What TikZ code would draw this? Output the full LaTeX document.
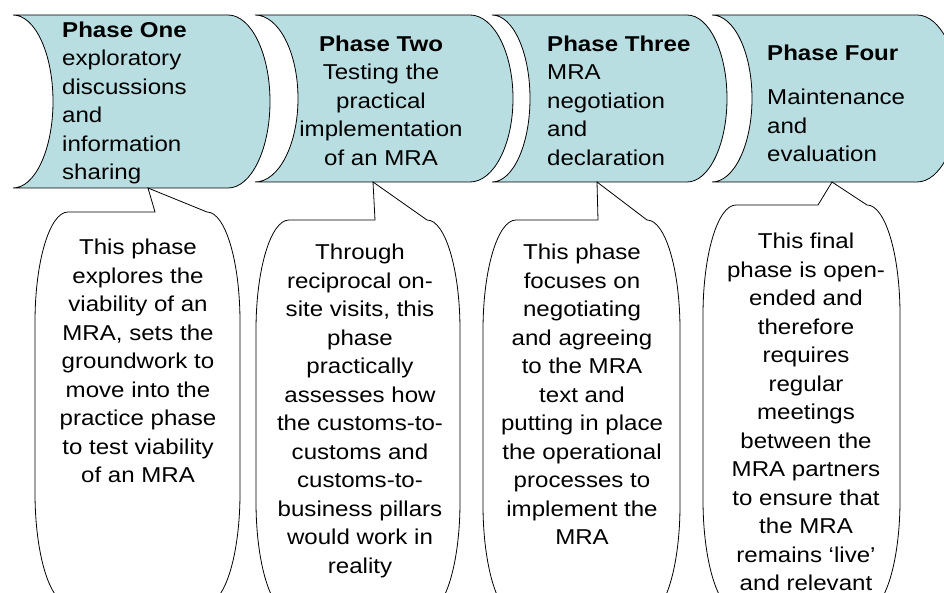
\documentclass[tikz,border=0pt]{standalone}
\usepackage{fontspec}
\setmainfont{Liberation Sans}[FakeStretch=1.12]
\definecolor{chevfill}{RGB}{185,222,226}
\tikzset{
  chev/.style={fill=chevfill,draw=black,line width=0.8pt},
  bub/.style={fill=white,draw=black,line width=0.8pt},
  txt/.style={inner sep=0pt,font=\fontsize{21.5}{28.5}\selectfont},
}
% chevron: xl, xr, yt, yb, bulge, concave
\newcommand\mychev[6]{%
  \path[chev] (#1,#3) -- (#2,#3)
    arc[start angle=90,end angle=-90,x radius=#5pt,y radius={(#4-#3)/2*1pt}]
    -- (#1,#4)
    arc[start angle=-90,end angle=90,x radius=#6pt,y radius={(#4-#3)/2*1pt}]
    -- cycle;}
% bubble: L, R, T, B, pointer left base, tip x, tip y
\newcommand\mybub[7]{%
  \path[bub] ({#1+33},#3) -- (#5,#3) -- (#6,#7) -- ({#2-33},#3)
    arc[start angle=90,end angle=0,x radius=33pt,y radius=110pt]
    -- (#2,{#4-110})
    arc[start angle=0,end angle=-90,x radius=33pt,y radius=110pt]
    -- ({#1+33},#4)
    arc[start angle=-90,end angle=-180,x radius=33pt,y radius=110pt]
    -- (#1,{#3+110})
    arc[start angle=180,end angle=90,x radius=33pt,y radius=110pt]
    -- cycle;}
\begin{document}
\begin{tikzpicture}[x=1pt,y=-1pt]
\useasboundingbox (0,0) rectangle (944,593);
\clip (0,0) rectangle (944,593);
\fill[white] (0,0) rectangle (944,593);
% chevrons
\mychev{13}{228}{15}{188}{42}{40}
\mychev{255}{470}{15}{182}{43}{43}
\mychev{492}{687}{15}{182}{40}{38}
\mychev{712}{917}{15}{182}{42}{40}
% bubbles
\mybub{35}{240}{212}{603}{155}{148}{188}
\mybub{256}{460}{220}{612}{375}{373}{182}
\mybub{483}{680}{220}{615}{598}{597}{182}
\mybub{703}{900}{205}{610}{818}{832}{182}
% chevron texts
\node[txt,anchor=north west,align=left] (p1) at (62,21.5)
  {\textbf{Phase One}\\exploratory\\discussions\\and\\information\\sharing};
\node[txt,anchor=north,align=center] (p2) at (381,35.5)
  {\textbf{Phase Two}\\Testing the\\practical\\implementation\\of an MRA};
\node[txt,anchor=north west,align=left] (p3) at (547,35.5)
  {\textbf{Phase Three}\\MRA\\negotiation\\and\\declaration};
\node[txt,anchor=north west,align=left] (p4) at (767,44.5)
  {\textbf{Phase Four}\\[16pt]Maintenance\\and\\evaluation};
% bubble texts
\node[txt,anchor=north,align=center] (b1) at (138,239)
  {This phase\\explores the\\viability of an\\MRA, sets the\\groundwork to\\move into the\\practice phase\\to test viability\\of an MRA};
\node[txt,anchor=north,align=center] (b2) at (360,244)
  {Through\\reciprocal on-\\site visits, this\\phase\\practically\\assesses how\\the customs-to-\\customs and\\customs-to-\\business pillars\\would work in\\reality};
\node[txt,anchor=north,align=center] (b3) at (582,244)
  {This phase\\focuses on\\negotiating\\and agreeing\\to the MRA\\text and\\putting in place\\the operational\\processes to\\implement the\\MRA};
\node[txt,anchor=north,align=center] (b4) at (806,233)
  {This final\\phase is open-\\ended and\\therefore\\requires\\regular\\meetings\\between the\\MRA partners\\to ensure that\\the MRA\\remains ‘live’\\and relevant};
\end{tikzpicture}
\end{document}
